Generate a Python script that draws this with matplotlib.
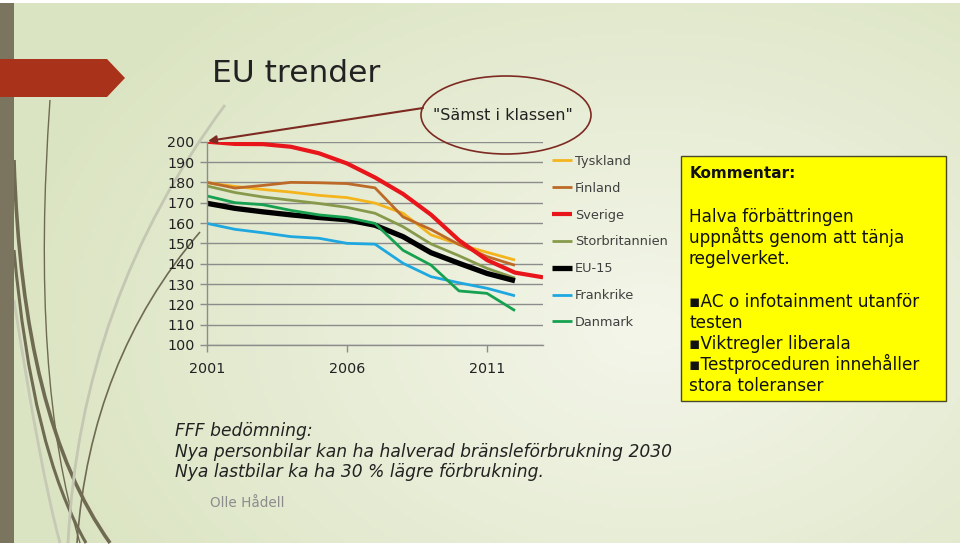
import numpy as np
import matplotlib
matplotlib.use("Agg")
import matplotlib.pyplot as plt
from matplotlib.patches import Ellipse, Rectangle, Polygon, PathPatch
from matplotlib.path import Path

plt.rcParams['font.family'] = ['DejaVu Sans']

# data (g CO2/km, new cars)
years = list(range(2001, 2013))
years_se = list(range(2001, 2014))

tyskland = [179.8, 178.0, 176.5, 175.2, 173.6, 172.5, 169.8, 164.8, 154.2, 149.5, 145.6, 141.8]
finland = [180.0, 177.2, 178.5, 180.0, 179.8, 179.4, 177.3, 163.0, 156.8, 149.4, 143.5, 139.2]
sverige = [200.0, 198.9, 198.8, 197.5, 194.3, 189.3, 182.4, 174.3, 164.1, 151.5, 141.8, 135.6, 133.3]
storbritannien = [178.2, 175.0, 172.8, 171.2, 169.6, 167.7, 164.8, 158.2, 149.7, 143.9, 137.7, 132.9]
eu15 = [169.7, 167.2, 165.5, 164.0, 162.7, 161.6, 158.9, 153.3, 145.4, 140.2, 135.2, 131.6]
frankrike = [159.8, 156.9, 155.2, 153.3, 152.5, 150.0, 149.6, 140.2, 133.6, 130.6, 127.9, 124.2]
danmark = [173.3, 170.0, 169.0, 166.2, 164.0, 162.7, 159.8, 146.6, 139.3, 126.6, 125.4, 116.9]

yticks = list(range(100, 201, 10))
xticks = [2001, 2006, 2011]

W, H = 960, 548
fig = plt.figure(figsize=(9.6, 5.48), dpi=100)
fig.patch.set_facecolor('white')

# background slide (pixel coords)
bg = fig.add_axes([0, 0, 1, 1], zorder=0)
bg.set_xlim(0, W); bg.set_ylim(H, 0); bg.axis('off')
gx, gy = np.meshgrid(np.linspace(0, W, 240), np.linspace(3, 543, 140))
d = np.sqrt(((gx - 650) / 650.0)**2 + ((gy - 330) / 450.0)**2)
d = np.clip(d, 0, 1)
c0 = np.array([0xf4, 0xf6, 0xea]) / 255.0
c1 = np.array([0xdb, 0xe4, 0xc2]) / 255.0
img = c0[None, None, :] * (1 - d[..., None]) + c1[None, None, :] * d[..., None]
bg.imshow(img, extent=(0, W, 543, 3), aspect='auto', zorder=0)

# decorative curves on the left
curves = [
    ((14, 160), (22, 420), (110, 543), '#6f6a52', 2.6),
    ((14, 250), (32, 450), (86, 543), '#6f6a52', 2.2),
    ((50, 100), (30, 380), (80, 543), '#6f6a52', 1.0),
    ((200, 232), (90, 360), (77, 543), '#6f6a52', 1.2),
    ((225, 105), (80, 300), (68, 543), '#c4c7b2', 2.0),
    ((14, 300), (40, 470), (60, 543), '#c6c9b4', 2.0),
]
for p0, p1, p2, col, lw in curves:
    path = Path([p0, p1, p2], [Path.MOVETO, Path.CURVE3, Path.CURVE3])
    bg.add_patch(PathPatch(path, fc='none', ec=col, lw=lw, zorder=1))

bg.add_patch(Rectangle((0, 3), 14, 540, fc='#7b7560', ec='none', zorder=2))
bg.add_patch(Polygon([(0, 59), (107, 59), (125, 78), (107, 97), (0, 97)],
                     closed=True, fc='#a8321a', ec='none', zorder=3))

# chart
ax = fig.add_axes([207 / W, 1 - 345 / H, 336 / W, 203.3 / H], zorder=2)
ax.patch.set_alpha(0)

series = [
    ('Tyskland', years, tyskland, '#f4b41c', 2.0),
    ('Finland', years, finland, '#bd6a28', 2.0),
    ('Sverige', years_se, sverige, '#e8161b', 3.0),
    ('Storbritannien', years, storbritannien, '#879a4c', 2.0),
    ('EU-15', years, eu15, '#000000', 3.8),
    ('Frankrike', years, frankrike, '#1fa8e0', 2.0),
    ('Danmark', years, danmark, '#16a150', 2.0),
]
for name, xs, ys, col, lw in series:
    ax.plot(xs, ys, color=col, lw=lw, label=name, solid_capstyle='butt')

ax.set_xlim(2001, 2013)
ax.set_ylim(100, 200)
ax.set_yticks(yticks)
ax.set_xticks(xticks)
ax.set_xticklabels([str(x) for x in xticks])
ax.grid(axis='y', color='#8c8c8c', lw=1.0)
ax.set_axisbelow(True)
for s in ['top', 'right']:
    ax.spines[s].set_visible(False)
for s in ['left', 'bottom']:
    ax.spines[s].set_color('#8c8c8c')
    ax.spines[s].set_linewidth(1.0)
ax.tick_params(axis='both', colors='#8c8c8c', labelcolor='#222222',
               labelsize=10.3, length=5, width=1.0, direction='out')
ax.tick_params(axis='y', pad=4)
ax.tick_params(axis='x', pad=7)

ax.legend(loc='upper left', bbox_to_anchor=(552 / W, 1 - 155 / H),
          bbox_transform=fig.transFigure, frameon=False, fontsize=9.3,
          handlelength=1.55, handletextpad=0.25, labelspacing=1.07,
          borderpad=0, borderaxespad=0, labelcolor='#404040')

# overlay texts and shapes (pixel coords)
fg = fig.add_axes([0, 0, 1, 1], zorder=3)
fg.set_xlim(0, W); fg.set_ylim(H, 0); fg.axis('off')
fg.patch.set_alpha(0)

fg.text(212, 82, 'EU trender', fontsize=22.5, color='#222222', va='baseline')

fg.add_patch(Ellipse((506, 115), 170, 78, fc='none', ec='#7d2a22', lw=1.2))
fg.text(503, 116, '"Sämst i klassen"', fontsize=11.5, color='#222222',
        ha='center', va='center')
fg.annotate('', xy=(208, 141), xytext=(423, 108),
            arrowprops=dict(arrowstyle='-|>', color='#7d2a22', lw=1.5,
                            mutation_scale=12, shrinkA=0, shrinkB=0))

fg.add_patch(Rectangle((681, 156), 265, 245, fc='#ffff00', ec='#4a4a2a', lw=1.0))
fg.text(690, 178, 'Kommentar:', fontsize=11, fontweight='bold', color='#111111',
        va='baseline')
box_lines = [
    (222, 'Halva förbättringen'),
    (243, 'uppnåtts genom att tänja'),
    (264, 'regelverket.'),
    (307, '▪AC o infotainment utanför'),
    (328, 'testen'),
    (349, '▪Viktregler liberala'),
    (370, '▪Testproceduren innehåller'),
    (391, 'stora toleranser'),
]
for yy, t in box_lines:
    fg.text(689, yy, t, fontsize=12.2, color='#111111', va='baseline')

bottom_lines = [
    (436, 'FFF bedömning:'),
    (457, 'Nya personbilar kan ha halverad bränsleförbrukning 2030'),
    (477, 'Nya lastbilar ka ha 30 % lägre förbrukning.'),
]
for yy, t in bottom_lines:
    fg.text(175, yy, t, fontsize=12.3, style='italic', color='#222222',
            va='baseline')

fg.text(210, 507, 'Olle Hådell', fontsize=9.8, color='#8c8c8c', va='baseline')

fig.savefig('out.png', dpi=100)
